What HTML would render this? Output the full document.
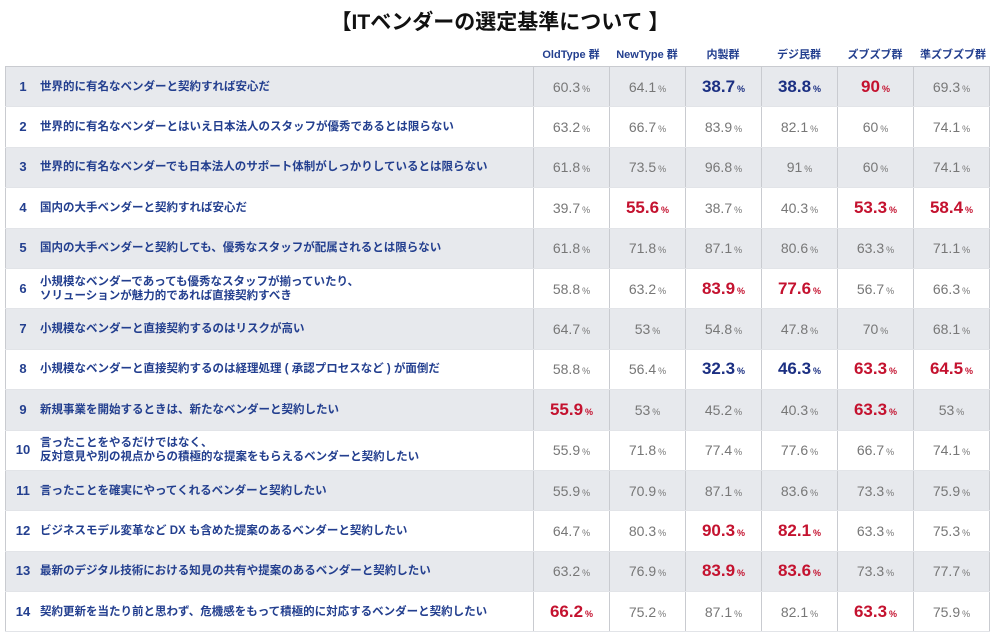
<!DOCTYPE html>
<html><head><meta charset="utf-8"><style>
body{margin:0;width:1000px;height:639px;background:#fff;font-family:"Liberation Sans","Noto Sans CJK JP",sans-serif;position:relative;overflow:hidden}
.title{position:absolute;top:6px;left:0;width:1000px;text-align:center;font-size:21px;font-weight:bold;color:#111}
.hdr{position:absolute;top:46px;font-size:11px;font-weight:bold;color:#233f8f;text-align:center}
table{position:absolute;left:5px;top:66px;border-collapse:collapse;border:1.5px solid #c9cbd0}
td{height:39.4px;padding:0;border-bottom:1px solid #e2e4e8}
tr:nth-child(odd) td{background:#e7e9ed}
td.l{width:527px;font-size:11.5px;font-weight:bold;color:#233f8f;line-height:14px}
td.l .n{display:inline-block;width:34px;text-align:center;font-size:13px;vertical-align:middle}
td.l .t{display:inline-block;vertical-align:middle}
td.v{width:75px;border-left:1.5px solid #c9cbd0;text-align:center;font-size:14px;color:#777}
td.v i{font-style:normal;font-size:9px;margin-left:2px}
td.r{color:#c4122f;font-size:17px;font-weight:bold}
td.b{color:#1b2f82;font-size:17px;font-weight:bold}
</style></head><body>
<div class="title">【ITベンダーの選定基準について 】</div>
<div class="hdr" style="left:533px;width:76px">OldType 群</div>
<div class="hdr" style="left:609px;width:76px">NewType 群</div>
<div class="hdr" style="left:685px;width:76px">内製群</div>
<div class="hdr" style="left:761px;width:76px">デジ民群</div>
<div class="hdr" style="left:837px;width:76px">ズブズブ群</div>
<div class="hdr" style="left:913px;width:80px">準ズブズブ群</div>
<table>
<tr><td class="l"><span class="n">1</span><span class="t">世界的に有名なベンダーと契約すれば安心だ</span></td><td class="v">60.3<i>%</i></td><td class="v">64.1<i>%</i></td><td class="v b">38.7<i>%</i></td><td class="v b">38.8<i>%</i></td><td class="v r">90<i>%</i></td><td class="v">69.3<i>%</i></td></tr>
<tr><td class="l"><span class="n">2</span><span class="t">世界的に有名なベンダーとはいえ日本法人のスタッフが優秀であるとは限らない</span></td><td class="v">63.2<i>%</i></td><td class="v">66.7<i>%</i></td><td class="v">83.9<i>%</i></td><td class="v">82.1<i>%</i></td><td class="v">60<i>%</i></td><td class="v">74.1<i>%</i></td></tr>
<tr><td class="l"><span class="n">3</span><span class="t">世界的に有名なベンダーでも日本法人のサポート体制がしっかりしているとは限らない</span></td><td class="v">61.8<i>%</i></td><td class="v">73.5<i>%</i></td><td class="v">96.8<i>%</i></td><td class="v">91<i>%</i></td><td class="v">60<i>%</i></td><td class="v">74.1<i>%</i></td></tr>
<tr><td class="l"><span class="n">4</span><span class="t">国内の大手ベンダーと契約すれば安心だ</span></td><td class="v">39.7<i>%</i></td><td class="v r">55.6<i>%</i></td><td class="v">38.7<i>%</i></td><td class="v">40.3<i>%</i></td><td class="v r">53.3<i>%</i></td><td class="v r">58.4<i>%</i></td></tr>
<tr><td class="l"><span class="n">5</span><span class="t">国内の大手ベンダーと契約しても、優秀なスタッフが配属されるとは限らない</span></td><td class="v">61.8<i>%</i></td><td class="v">71.8<i>%</i></td><td class="v">87.1<i>%</i></td><td class="v">80.6<i>%</i></td><td class="v">63.3<i>%</i></td><td class="v">71.1<i>%</i></td></tr>
<tr><td class="l"><span class="n">6</span><span class="t">小規模なベンダーであっても優秀なスタッフが揃っていたり、<br>ソリューションが魅力的であれば直接契約すべき</span></td><td class="v">58.8<i>%</i></td><td class="v">63.2<i>%</i></td><td class="v r">83.9<i>%</i></td><td class="v r">77.6<i>%</i></td><td class="v">56.7<i>%</i></td><td class="v">66.3<i>%</i></td></tr>
<tr><td class="l"><span class="n">7</span><span class="t">小規模なベンダーと直接契約するのはリスクが高い</span></td><td class="v">64.7<i>%</i></td><td class="v">53<i>%</i></td><td class="v">54.8<i>%</i></td><td class="v">47.8<i>%</i></td><td class="v">70<i>%</i></td><td class="v">68.1<i>%</i></td></tr>
<tr><td class="l"><span class="n">8</span><span class="t">小規模なベンダーと直接契約するのは経理処理 ( 承認プロセスなど ) が面倒だ</span></td><td class="v">58.8<i>%</i></td><td class="v">56.4<i>%</i></td><td class="v b">32.3<i>%</i></td><td class="v b">46.3<i>%</i></td><td class="v r">63.3<i>%</i></td><td class="v r">64.5<i>%</i></td></tr>
<tr><td class="l"><span class="n">9</span><span class="t">新規事業を開始するときは、新たなベンダーと契約したい</span></td><td class="v r">55.9<i>%</i></td><td class="v">53<i>%</i></td><td class="v">45.2<i>%</i></td><td class="v">40.3<i>%</i></td><td class="v r">63.3<i>%</i></td><td class="v">53<i>%</i></td></tr>
<tr><td class="l"><span class="n">10</span><span class="t">言ったことをやるだけではなく、<br>反対意見や別の視点からの積極的な提案をもらえるベンダーと契約したい</span></td><td class="v">55.9<i>%</i></td><td class="v">71.8<i>%</i></td><td class="v">77.4<i>%</i></td><td class="v">77.6<i>%</i></td><td class="v">66.7<i>%</i></td><td class="v">74.1<i>%</i></td></tr>
<tr><td class="l"><span class="n">11</span><span class="t">言ったことを確実にやってくれるベンダーと契約したい</span></td><td class="v">55.9<i>%</i></td><td class="v">70.9<i>%</i></td><td class="v">87.1<i>%</i></td><td class="v">83.6<i>%</i></td><td class="v">73.3<i>%</i></td><td class="v">75.9<i>%</i></td></tr>
<tr><td class="l"><span class="n">12</span><span class="t">ビジネスモデル変革など DX も含めた提案のあるベンダーと契約したい</span></td><td class="v">64.7<i>%</i></td><td class="v">80.3<i>%</i></td><td class="v r">90.3<i>%</i></td><td class="v r">82.1<i>%</i></td><td class="v">63.3<i>%</i></td><td class="v">75.3<i>%</i></td></tr>
<tr><td class="l"><span class="n">13</span><span class="t">最新のデジタル技術における知見の共有や提案のあるベンダーと契約したい</span></td><td class="v">63.2<i>%</i></td><td class="v">76.9<i>%</i></td><td class="v r">83.9<i>%</i></td><td class="v r">83.6<i>%</i></td><td class="v">73.3<i>%</i></td><td class="v">77.7<i>%</i></td></tr>
<tr><td class="l"><span class="n">14</span><span class="t">契約更新を当たり前と思わず、危機感をもって積極的に対応するベンダーと契約したい</span></td><td class="v r">66.2<i>%</i></td><td class="v">75.2<i>%</i></td><td class="v">87.1<i>%</i></td><td class="v">82.1<i>%</i></td><td class="v r">63.3<i>%</i></td><td class="v">75.9<i>%</i></td></tr>
</table>
</body></html>
